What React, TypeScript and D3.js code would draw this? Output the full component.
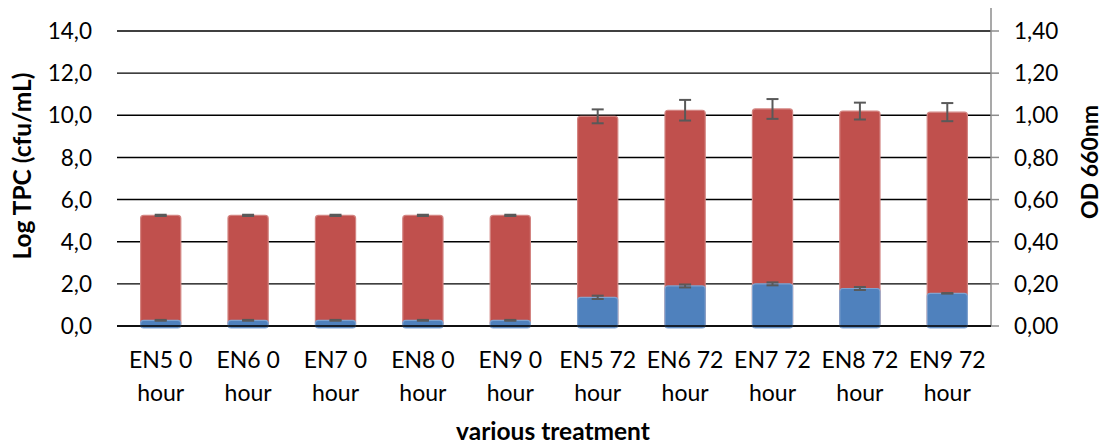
import React from "react";
import * as d3 from "d3";

const categories = ["EN5 0 hour", "EN6 0 hour", "EN7 0 hour", "EN8 0 hour", "EN9 0 hour", "EN5 72 hour", "EN6 72 hour", "EN7 72 hour", "EN8 72 hour", "EN9 72 hour"];
const tpcValues = [5.25, 5.25, 5.25, 5.25, 5.25, 9.95, 10.24, 10.3, 10.2, 10.15];
const tpcErrors = [0.03, 0.03, 0.03, 0.03, 0.03, 0.33, 0.49, 0.47, 0.4, 0.43];
const odValues = [0.027, 0.027, 0.027, 0.027, 0.027, 0.136, 0.19, 0.2, 0.178, 0.155];
const odErrors = [0.002, 0.002, 0.002, 0.002, 0.002, 0.008, 0.007, 0.007, 0.007, 0.001];
const leftTicks = [0, 2, 4, 6, 8, 10, 12, 14];
const rightTicks = [0, 0.2, 0.4, 0.6, 0.8, 1.0, 1.2, 1.4];

const W = 1102, H = 446;
const X0 = 117, X1 = 991, Y0 = 326, Y1 = 31;
const FONT = "Lato, 'Open Sans', sans-serif";

export default function App() {
  const x = d3.scaleBand<string>().domain(categories).range([X0, X1]).paddingInner(0.54).paddingOuter(0.27);
  const yL = d3.scaleLinear().domain([0, 14]).range([Y0, Y1]);
  const yR = d3.scaleLinear().domain([0, 1.4]).range([Y0, Y1]);
  const bw = x.bandwidth();
  const capW = 12;
  const fmtL = (v: number) => v.toFixed(1).replace(".", ",");
  const fmtR = (v: number) => v.toFixed(2).replace(".", ",");

  return (
    <svg width={W} height={H} style={{ position: "absolute", left: 0, top: 0, background: "#fff" }} fontFamily={FONT}>
      {leftTicks.map((t) => (
        <line key={"g" + t} x1={X0} x2={X1} y1={yL(t)} y2={yL(t)} stroke="#000" strokeWidth={1.4} />
      ))}
      {leftTicks.map((t) => (
        <text key={"l" + t} x={92} y={yL(t)} dy="0.36em" textAnchor="end" fontSize={22.5} fill="#000">{fmtL(t)}</text>
      ))}
      <line x1={X1} x2={X1} y1={8} y2={Y0} stroke="#8c8c8c" strokeWidth={1.5} />
      {rightTicks.map((t) => (
        <g key={"r" + t}>
          <line x1={X1} x2={X1 + 8} y1={yR(t)} y2={yR(t)} stroke="#8c8c8c" strokeWidth={1.5} />
          <text x={1014} y={yR(t)} dy="0.36em" textAnchor="start" fontSize={22.5} fill="#000">{fmtR(t)}</text>
        </g>
      ))}
      {categories.map((c, i) => (
        <rect key={"rb" + c} x={x(c)} y={yL(tpcValues[i])} width={bw} height={Y0 - yL(tpcValues[i])}
          fill="#C0504D" stroke="#d38481" strokeWidth={1.2} rx={3} />
      ))}
      {categories.map((c, i) => {
        const cx = (x(c) as number) + bw / 2;
        const t = yL(tpcValues[i] + tpcErrors[i]);
        const b = yL(tpcValues[i] - tpcErrors[i]);
        return (
          <g key={"re" + c} stroke="#595959" strokeWidth={2}>
            <line x1={cx} x2={cx} y1={t} y2={b} />
            <line x1={cx - capW / 2} x2={cx + capW / 2} y1={t} y2={t} />
            <line x1={cx - capW / 2} x2={cx + capW / 2} y1={b} y2={b} />
          </g>
        );
      })}
      {categories.map((c, i) => (
        <rect key={"bb" + c} x={x(c)} y={yR(odValues[i])} width={bw} height={Y0 - yR(odValues[i]) + 2}
          fill="#4F81BD" stroke="#7fa2cf" strokeWidth={1.2} rx={3} />
      ))}
      {categories.map((c, i) => {
        const cx = (x(c) as number) + bw / 2;
        const t = yR(odValues[i] + odErrors[i]);
        const b = yR(odValues[i] - odErrors[i]);
        return (
          <g key={"be" + c} stroke="#595959" strokeWidth={2}>
            <line x1={cx} x2={cx} y1={t} y2={b} />
            <line x1={cx - capW / 2} x2={cx + capW / 2} y1={t} y2={t} />
            <line x1={cx - capW / 2} x2={cx + capW / 2} y1={b} y2={b} />
          </g>
        );
      })}
      <line x1={X0} x2={X1} y1={Y0} y2={Y0} stroke="#000" strokeWidth={1.4} />
      {categories.map((c) => {
        const cx = (x(c) as number) + bw / 2;
        const parts = c.split(" ");
        const l1 = parts.slice(0, 2).join(" ");
        const l2 = parts.slice(2).join(" ");
        return (
          <text key={"c" + c} x={cx} textAnchor="middle" fontSize={23} fill="#000">
            <tspan x={cx} y={368}>{l1}</tspan>
            <tspan x={cx} y={401}>{l2}</tspan>
          </text>
        );
      })}
      <text x={553} y={440} textAnchor="middle" fontSize={24.5} fontWeight="bold" fill="#000">various treatment</text>
      <text transform={`translate(31,166) rotate(-90)`} textAnchor="middle" fontSize={24.5} fontWeight="bold" fill="#000">Log TPC (cfu/mL)</text>
      <text transform={`translate(1098,162) rotate(-90)`} textAnchor="middle" fontSize={23} fontWeight="bold" fill="#000">OD 660nm</text>
    </svg>
  );
}
